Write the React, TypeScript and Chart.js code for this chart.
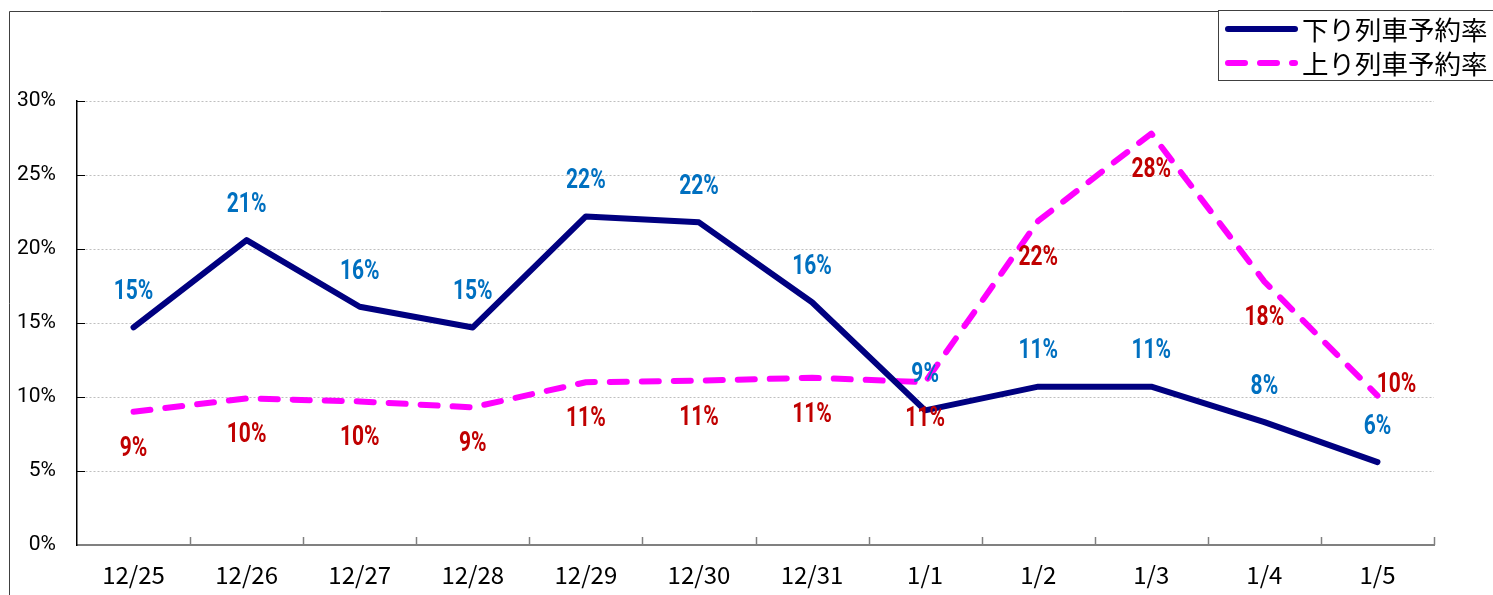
import React, { useEffect, useRef } from 'react';
import { Chart, registerables } from 'chart.js';

Chart.register(...registerables);

const categories = ['12/25', '12/26', '12/27', '12/28', '12/29', '12/30', '12/31', '1/1', '1/2', '1/3', '1/4', '1/5'];
const downRates = [14.7, 20.6, 16.1, 14.7, 22.2, 21.8, 16.4, 9.1, 10.7, 10.7, 8.3, 5.6];
const upRates = [9.0, 9.9, 9.7, 9.3, 11.0, 11.1, 11.3, 11.0, 21.9, 27.8, 17.8, 10.1];
const seriesNames = ['下り列車予約率', '上り列車予約率'];
const yMin = 0;
const yMax = 30;
const yStep = 5;

const NAVY = '#000080';
const MAGENTA = '#FF00FF';
const BLUE_LABEL = '#0070C0';
const RED_LABEL = '#C00000';
const DASH = [17, 15];

const framePlugin = {
  id: 'frame',
  beforeDraw(chart: any) {
    const ctx = chart.ctx;
    ctx.save();
    ctx.fillStyle = '#ffffff';
    ctx.fillRect(0, 0, chart.width, chart.height);
    ctx.strokeStyle = '#404040';
    ctx.lineWidth = 1;
    ctx.beginPath();
    ctx.moveTo(9.5, chart.height);
    ctx.lineTo(9.5, 11.5);
    ctx.lineTo(chart.width, 11.5);
    ctx.stroke();
    ctx.restore();
  },
};

const tickMarksPlugin = {
  id: 'tickMarks',
  afterDatasetsDraw(chart: any) {
    const ctx = chart.ctx;
    const x = chart.scales.x;
    const y = chart.scales.y;
    const area = chart.chartArea;
    ctx.save();
    ctx.strokeStyle = '#808080';
    ctx.lineWidth = 1.5;
    const n = categories.length;
    for (let i = 1; i <= n; i++) {
      const px = i < n ? (x.getPixelForValue(i - 1) + x.getPixelForValue(i)) / 2 : area.right;
      ctx.beginPath();
      ctx.moveTo(Math.round(px) + 0.5, area.bottom);
      ctx.lineTo(Math.round(px) + 0.5, area.bottom - 8);
      ctx.stroke();
    }
    ctx.strokeStyle = '#000000';
    ctx.lineWidth = 1;
    for (let v = yMin + yStep; v <= yMax; v += yStep) {
      const py = Math.round(y.getPixelForValue(v)) + 0.5;
      ctx.beginPath();
      ctx.moveTo(area.left, py);
      ctx.lineTo(area.left + 8, py);
      ctx.stroke();
    }
    ctx.restore();
  },
};

const pointLabelPlugin = {
  id: 'pointLabels',
  afterDatasetsDraw(chart: any) {
    const ctx = chart.ctx;
    chart.data.datasets.forEach((ds: any, di: number) => {
      const meta = chart.getDatasetMeta(di);
      meta.data.forEach((pt: any, i: number) => {
        const v = ds.data[i];
        let px = pt.x;
        let py = pt.y;
        let color;
        if (di === 0) {
          color = BLUE_LABEL;
          py -= 35;
        } else {
          color = RED_LABEL;
          if (i === ds.data.length - 1) {
            px += 19;
            py -= 10;
          } else {
            py += 37;
          }
        }
        ctx.save();
        ctx.translate(px, py);
        ctx.scale(1, 1.3);
        ctx.font = 'bold 21px Roboto, "Noto Sans", sans-serif';
        ctx.textAlign = 'center';
        ctx.textBaseline = 'middle';
        ctx.fillStyle = color;
        ctx.fillText(Math.round(v) + '%', 0, 0);
        ctx.restore();
      });
    });
  },
};

const legendPlugin = {
  id: 'boxLegend',
  afterDraw(chart: any) {
    const ctx = chart.ctx;
    ctx.save();
    const bx = 1218.5;
    const by = 10.5;
    const bw = chart.width - bx + 5;
    const bh = 70;
    ctx.fillStyle = '#ffffff';
    ctx.fillRect(bx, by, bw, bh);
    ctx.strokeStyle = '#404040';
    ctx.lineWidth = 1;
    ctx.strokeRect(bx, by, bw, bh);
    const rows = [29, 63];
    chart.data.datasets.forEach((ds: any, i: number) => {
      const ry = rows[i];
      ctx.strokeStyle = ds.borderColor;
      ctx.lineWidth = 6;
      ctx.lineCap = 'round';
      ctx.setLineDash(ds.borderDash || []);
      ctx.beginPath();
      ctx.moveTo(1228, ry);
      ctx.lineTo(1295, ry);
      ctx.stroke();
      ctx.setLineDash([]);
      ctx.fillStyle = '#000000';
      ctx.font = '26.5px "Noto Sans CJK JP", sans-serif';
      ctx.textAlign = 'left';
      ctx.textBaseline = 'middle';
      ctx.fillText(ds.label, 1302, ry + 1);
    });
    ctx.restore();
  },
};

export default function App() {
  const canvasRef = useRef<HTMLCanvasElement | null>(null);

  useEffect(() => {
    document.body.style.margin = '0';
    const canvas = canvasRef.current;
    if (!canvas) return;
    const chart = new Chart(canvas, {
      type: 'line',
      data: {
        labels: categories,
        datasets: [
          {
            label: seriesNames[0],
            data: downRates,
            borderColor: NAVY,
            backgroundColor: NAVY,
            borderWidth: 6,
            borderCapStyle: 'round',
            borderJoinStyle: 'round',
            pointRadius: 0,
            tension: 0,
            fill: false,
          },
          {
            label: seriesNames[1],
            data: upRates,
            borderColor: MAGENTA,
            backgroundColor: MAGENTA,
            borderWidth: 6,
            borderDash: DASH,
            borderCapStyle: 'round',
            borderJoinStyle: 'round',
            pointRadius: 0,
            tension: 0,
            fill: false,
          },
        ],
      },
      options: {
        responsive: false,
        animation: false,
        devicePixelRatio: 1,
        layout: { padding: { top: 101, right: 59, left: 0, bottom: 0 } },
        plugins: {
          legend: { display: false },
          tooltip: { enabled: false },
        },
        scales: {
          x: {
            type: 'category',
            offset: true,
            grid: { display: false, drawTicks: false },
            border: { display: true, color: '#808080', width: 2 },
            ticks: {
              color: '#000000',
              font: { family: '"Noto Sans CJK JP", sans-serif', size: 24 },
              padding: 15,
              maxRotation: 0,
              autoSkip: false,
            },
            afterFit: (s: any) => {
              s.height = 50;
            },
          },
          y: {
            min: yMin,
            max: yMax,
            grid: { color: '#bfbfbf', lineWidth: 1, drawTicks: false },
            border: { display: true, color: '#000000', width: 1.5, dash: [2, 2] },
            ticks: {
              stepSize: yStep,
              color: '#000000',
              font: { family: 'Roboto, "Noto Sans", sans-serif', size: 21 },
              padding: 21,
              callback: (v: any) => v + '%',
            },
            afterFit: (s: any) => {
              s.width = 77;
            },
          },
        },
      } as any,
      plugins: [framePlugin, tickMarksPlugin, pointLabelPlugin, legendPlugin],
    });
    return () => chart.destroy();
  }, []);

  return (
    <div style={{ width: 1493, height: 595, position: 'relative' }}>
      <canvas ref={canvasRef} width={1493} height={595} style={{ display: 'block' }} />
    </div>
  );
}
